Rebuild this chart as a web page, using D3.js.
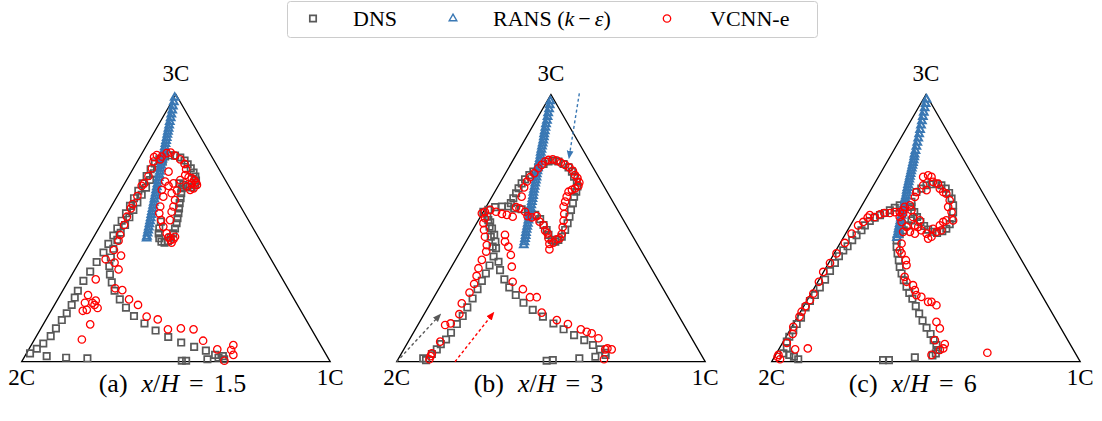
<!DOCTYPE html>
<html>
<head>
<meta charset="utf-8">
<script src="https://cdn.jsdelivr.net/npm/d3@7"></script>
<style>
  body { margin: 0; background: #fff; }
  svg text { font-family: "Liberation Serif", "Times New Roman", serif; fill: #000; }
</style>
</head>
<body>
<svg id="chart" width="1102" height="421"></svg>
<script>
// Barycentric map coordinates: 2C = (0,0), 1C = (1,0), 3C = (0.5, sqrt(3)/2)
const cornerLabels = ["2C", "1C", "3C"];
const seriesNames = ["DNS", "RANS", "VCNN-e"];
const panelTags = ["(a)", "(b)", "(c)"];
const panelPositions = ["1.5", "3", "6"];

// ---------- x/H = 1.5 ----------
const dnsA = [
  [0.081,0.018],[0.144,0.013],[0.213,0.011],[0.519,0.003],[0.533,0.003],[0.602,0.008],[0.638,0.013],[0.652,0.018],[0.656,0.008],
  [0.027,0.027],[0.049,0.042],[0.070,0.059],[0.094,0.083],[0.111,0.108],[0.130,0.135],[0.146,0.157],[0.162,0.184],[0.172,0.208],
  [0.182,0.230],[0.200,0.262],[0.222,0.292],[0.243,0.323],[0.265,0.354],[0.281,0.382],[0.297,0.409],[0.310,0.432],[0.324,0.457],
  [0.338,0.481],[0.351,0.505],[0.364,0.530],[0.378,0.554],[0.392,0.578],[0.405,0.602],[0.418,0.624],[0.432,0.643],[0.446,0.656],
  [0.627,0.022],[0.597,0.036],[0.559,0.048],[0.517,0.062],[0.475,0.080],[0.434,0.101],[0.398,0.124],[0.364,0.148],[0.338,0.175],
  [0.318,0.202],[0.301,0.230],[0.292,0.257],[0.286,0.283],[0.284,0.310],[0.289,0.338],[0.297,0.366],[0.310,0.395],[0.321,0.418],
  [0.335,0.443],[0.349,0.468],[0.362,0.492],[0.375,0.516],[0.389,0.541],[0.403,0.564],[0.416,0.589],[0.429,0.611],[0.442,0.630],
  [0.457,0.649],[0.465,0.665],[0.481,0.669],[0.497,0.668],[0.514,0.662],[0.528,0.652],[0.538,0.640],[0.548,0.627],[0.557,0.613],
  [0.563,0.600],[0.565,0.587],[0.562,0.573],[0.551,0.565],[0.537,0.568],[0.524,0.573],[0.511,0.578],
  [0.519,0.562],[0.517,0.546],[0.515,0.530],[0.512,0.514],[0.510,0.497],[0.508,0.481],[0.505,0.465],[0.502,0.449],[0.497,0.432],
  [0.491,0.416],[0.483,0.402],[0.474,0.391],[0.463,0.386],[0.453,0.389],[0.446,0.400],[0.444,0.416],[0.446,0.432],[0.451,0.454]
];
const ransA = [
  [0.496,0.856],[0.493,0.842],[0.490,0.828],[0.488,0.815],[0.485,0.802],[0.483,0.790],[0.480,0.778],[0.478,0.766],[0.476,0.756],
  [0.474,0.746],[0.472,0.736],[0.470,0.726],[0.468,0.716],[0.466,0.706],[0.464,0.696],[0.462,0.686],[0.460,0.676],[0.458,0.666],
  [0.456,0.656],[0.454,0.646],[0.452,0.636],[0.450,0.626],[0.448,0.616],[0.446,0.606],[0.444,0.596],[0.442,0.586],[0.440,0.576],
  [0.438,0.566],[0.436,0.556],[0.434,0.546],[0.432,0.536],[0.430,0.526],[0.428,0.516],[0.426,0.506],[0.424,0.496],[0.422,0.486],
  [0.420,0.476],[0.418,0.466],[0.416,0.456],[0.414,0.446],[0.412,0.436],[0.410,0.426],[0.408,0.416],[0.406,0.406],[0.405,0.400]
];
const vcnnA = [
  [0.657,0.003],[0.686,0.054],[0.686,0.022],[0.679,0.038],[0.634,0.040],[0.588,0.068],[0.557,0.105],[0.516,0.108],[0.474,0.105],
  [0.441,0.137],[0.405,0.146],[0.377,0.184],[0.348,0.202],[0.326,0.232],[0.303,0.238],[0.314,0.299],[0.301,0.321],[0.272,0.332],
  [0.322,0.344],[0.299,0.362],[0.314,0.392],
  [0.215,0.216],[0.205,0.191],[0.198,0.165],[0.211,0.168],[0.229,0.191],[0.240,0.198],[0.246,0.174],[0.236,0.184],[0.222,0.121],
  [0.195,0.072],[0.240,0.267],
  [0.319,0.411],[0.332,0.443],[0.341,0.470],[0.354,0.497],[0.360,0.511],[0.375,0.537],[0.389,0.570],[0.397,0.578],[0.411,0.602],
  [0.422,0.627],[0.427,0.649],
  [0.429,0.663],[0.438,0.670],[0.449,0.656],[0.454,0.665],[0.470,0.676],[0.483,0.678],[0.497,0.668],[0.514,0.656],[0.528,0.641],
  [0.533,0.624],[0.530,0.605],[0.541,0.598],[0.551,0.595],[0.559,0.589],[0.565,0.581],[0.568,0.573],[0.557,0.562],[0.546,0.557],
  [0.551,0.578],[0.535,0.568],
  [0.476,0.616],[0.465,0.584],[0.476,0.570],[0.492,0.578],[0.514,0.589],[0.454,0.557],[0.459,0.535],[0.449,0.503],[0.446,0.481],
  [0.452,0.459],[0.459,0.438],[0.470,0.416],[0.476,0.403],[0.483,0.395],[0.492,0.397],[0.497,0.405],[0.486,0.386],[0.481,0.459],
  [0.486,0.486],[0.497,0.524],[0.486,0.546],[0.503,0.555],[0.492,0.503]
];

// ---------- x/H = 3 ----------
const dnsB = [
  [0.086,0.011],[0.095,0.005],[0.486,0.003],[0.506,0.005],[0.592,0.011],[0.644,0.016],[0.677,0.022],
  [0.114,0.025],[0.130,0.040],[0.143,0.057],[0.160,0.072],[0.176,0.094],[0.195,0.122],[0.214,0.148],[0.229,0.176],[0.246,0.205],
  [0.262,0.235],[0.276,0.262],[0.289,0.286],[0.301,0.312],[0.314,0.341],[0.322,0.368],[0.320,0.389],[0.316,0.411],[0.309,0.432],
  [0.303,0.452],[0.294,0.470],
  [0.330,0.324],[0.335,0.297],[0.349,0.267],[0.365,0.241],[0.386,0.216],[0.411,0.191],[0.441,0.168],[0.474,0.146],[0.508,0.124],
  [0.541,0.105],[0.575,0.086],[0.608,0.070],[0.636,0.054],[0.659,0.040],[0.676,0.029],
  [0.311,0.373],[0.305,0.405],[0.301,0.438],[0.297,0.459],
  [0.281,0.486],[0.297,0.492],[0.319,0.501],[0.341,0.503],[0.362,0.503],[0.381,0.497],[0.405,0.494],[0.427,0.486],[0.449,0.476],
  [0.465,0.462],[0.476,0.443],[0.486,0.427],[0.492,0.411],[0.503,0.395],[0.514,0.389],[0.524,0.395],[0.535,0.405],[0.546,0.427],
  [0.554,0.449],[0.560,0.470],[0.565,0.492],[0.571,0.514],[0.575,0.535],[0.582,0.551],[0.586,0.568],[0.584,0.584],[0.575,0.600],
  [0.568,0.616],[0.557,0.630],[0.541,0.641],[0.524,0.649],[0.508,0.652],[0.492,0.649],[0.476,0.641],[0.459,0.630],[0.443,0.616],
  [0.430,0.605],[0.416,0.591],[0.405,0.578],[0.395,0.562],[0.387,0.546],[0.378,0.530],[0.370,0.514]
];
const ransB = [
  [0.498,0.845],[0.496,0.832],[0.494,0.819],[0.491,0.806],[0.489,0.794],[0.487,0.782],[0.484,0.770],[0.482,0.759],[0.480,0.748],
  [0.478,0.738],[0.477,0.728],[0.475,0.718],[0.473,0.708],[0.471,0.698],[0.469,0.688],[0.467,0.678],[0.466,0.668],[0.464,0.658],
  [0.462,0.648],[0.460,0.638],[0.458,0.628],[0.456,0.618],[0.454,0.608],[0.453,0.598],[0.451,0.588],[0.449,0.578],[0.447,0.568],
  [0.445,0.558],[0.443,0.548],[0.442,0.538],[0.440,0.528],[0.438,0.518],[0.436,0.508],[0.434,0.498],[0.432,0.488],[0.430,0.478],
  [0.429,0.468],[0.427,0.458],[0.425,0.448],[0.423,0.438],[0.421,0.428],[0.419,0.418],[0.418,0.408],[0.416,0.398],[0.414,0.388],
  [0.412,0.378]
];
const vcnnB = [
  [0.106,0.008],[0.110,0.018],[0.114,0.027],[0.141,0.065],[0.157,0.119],[0.175,0.124],[0.203,0.154],[0.211,0.189],[0.236,0.224],
  [0.251,0.252],[0.259,0.278],[0.265,0.303],[0.276,0.330],[0.290,0.357],[0.292,0.378],[0.286,0.405],[0.283,0.427],[0.281,0.449],
  [0.286,0.465],
  [0.276,0.481],[0.286,0.486],[0.303,0.492],[0.322,0.486],[0.341,0.479],[0.357,0.476],[0.376,0.470],[0.387,0.501],[0.398,0.497],
  [0.416,0.486],[0.424,0.472],[0.438,0.468],[0.454,0.472],[0.463,0.454],[0.476,0.443],[0.481,0.425],[0.489,0.416],[0.492,0.400],
  [0.495,0.382],[0.495,0.364],[0.508,0.386],[0.519,0.397],[0.528,0.400],[0.535,0.414],[0.538,0.436],[0.541,0.457],[0.543,0.479],
  [0.541,0.503],[0.546,0.519],
  [0.551,0.535],[0.557,0.551],[0.568,0.557],[0.578,0.562],[0.589,0.570],[0.592,0.581],[0.586,0.595],[0.578,0.605],[0.571,0.619],
  [0.560,0.630],[0.546,0.638],[0.532,0.645],[0.519,0.652],[0.506,0.656],[0.492,0.654],[0.481,0.649],[0.470,0.638],[0.459,0.627],
  [0.446,0.611],[0.432,0.598],[0.422,0.584],[0.413,0.565],[0.405,0.535],
  [0.351,0.411],[0.351,0.389],[0.362,0.373],[0.370,0.346],[0.373,0.308],[0.376,0.259],[0.409,0.235],[0.432,0.209],[0.454,0.209],
  [0.470,0.159],[0.519,0.135],[0.555,0.122],[0.597,0.105],[0.616,0.097],[0.632,0.092],[0.654,0.076],[0.676,0.040],[0.697,0.040],
  [0.683,0.043],[0.672,0.008]
];

// ---------- x/H = 6 ----------
const dnsC = [
  [0.038,0.027],[0.049,0.043],[0.057,0.022],[0.072,0.016],[0.086,0.008],[0.049,0.065],
  [0.057,0.081],[0.070,0.102],[0.081,0.122],[0.095,0.143],[0.110,0.176],[0.124,0.197],[0.140,0.216],[0.156,0.241],[0.173,0.266],
  [0.189,0.294],[0.205,0.320],[0.218,0.342],[0.232,0.361],[0.246,0.374],[0.261,0.394],[0.275,0.410],[0.291,0.426],[0.302,0.442],
  [0.318,0.456],[0.334,0.467],[0.351,0.475],[0.367,0.482],[0.383,0.491],[0.399,0.499],[0.415,0.507],[0.431,0.512],
  [0.361,0.005],[0.380,0.005],[0.464,0.014],
  [0.405,0.394],[0.405,0.372],[0.408,0.351],[0.412,0.329],[0.415,0.307],[0.421,0.286],[0.428,0.264],[0.437,0.243],[0.446,0.223],
  [0.456,0.204],[0.467,0.180],[0.478,0.156],[0.489,0.133],[0.502,0.110],[0.515,0.090],[0.525,0.070],[0.534,0.054],[0.539,0.038],
  [0.532,0.027],[0.521,0.020],
  [0.453,0.518],[0.469,0.550],[0.485,0.561],[0.502,0.572],[0.518,0.575],[0.534,0.577],[0.550,0.572],[0.564,0.561],[0.575,0.547],
  [0.583,0.529],[0.588,0.507],[0.588,0.485],[0.585,0.464],[0.577,0.446],[0.566,0.431],[0.553,0.423],[0.536,0.417],[0.521,0.421],
  [0.507,0.428],[0.494,0.440],[0.482,0.453],[0.471,0.469],[0.462,0.485],[0.453,0.502],
  [0.453,0.458],[0.442,0.442],[0.428,0.426],[0.415,0.413]
];
const ransC = [
  [0.502,0.850],[0.499,0.836],[0.496,0.822],[0.493,0.808],[0.490,0.794],[0.487,0.780],[0.484,0.766],[0.481,0.752],[0.478,0.738],
  [0.475,0.724],[0.472,0.710],[0.469,0.697],[0.466,0.684],[0.463,0.672],
  [0.462,0.663],[0.460,0.654],[0.458,0.645],[0.456,0.636],[0.454,0.627],[0.452,0.618],[0.450,0.609],[0.448,0.600],[0.446,0.591],
  [0.444,0.582],[0.442,0.573],[0.440,0.564],[0.438,0.555],[0.437,0.546],[0.435,0.537],[0.433,0.528],[0.431,0.519],[0.429,0.510],
  [0.427,0.501],[0.425,0.492],[0.423,0.483],[0.421,0.474],[0.419,0.465],[0.417,0.456],[0.415,0.447],[0.413,0.438],[0.411,0.429],
  [0.410,0.420],[0.408,0.411],[0.406,0.402]
];
const vcnnC = [
  [0.019,0.016],[0.027,0.008],[0.022,0.022],[0.049,0.061],[0.076,0.040],[0.117,0.043],[0.070,0.113],[0.068,0.090],[0.090,0.146],
  [0.097,0.162],[0.110,0.180],[0.124,0.200],[0.135,0.221],[0.153,0.259],[0.167,0.291],[0.189,0.320],[0.210,0.351],[0.237,0.385],
  [0.259,0.415],[0.280,0.442],[0.297,0.453],[0.311,0.467],[0.318,0.475],[0.334,0.469],[0.351,0.478],[0.365,0.482],[0.383,0.482],
  [0.399,0.485],[0.415,0.485],[0.426,0.491],
  [0.421,0.383],[0.415,0.361],[0.421,0.351],[0.437,0.313],[0.431,0.275],[0.437,0.259],[0.458,0.248],[0.464,0.232],[0.469,0.216],
  [0.485,0.210],[0.507,0.194],[0.518,0.194],[0.534,0.183],[0.534,0.129],[0.545,0.108],[0.529,0.070],[0.561,0.057],[0.556,0.043],
  [0.545,0.038],[0.518,0.022],[0.699,0.029],[0.426,0.421],[0.435,0.329],
  [0.491,0.599],[0.507,0.604],[0.518,0.599],[0.523,0.583],[0.539,0.577],[0.545,0.561],[0.491,0.572],[0.502,0.556],[0.469,0.550],
  [0.464,0.534],[0.566,0.545],[0.577,0.523],[0.572,0.502],[0.583,0.485],[0.588,0.458],[0.566,0.458],[0.556,0.453],[0.545,0.442],
  [0.550,0.426],[0.534,0.421],[0.523,0.431],[0.518,0.405],[0.507,0.399],[0.502,0.415],[0.485,0.426],[0.475,0.437],[0.464,0.442],
  [0.480,0.458],[0.458,0.469],[0.453,0.491],[0.448,0.507],[0.431,0.502],[0.426,0.480],[0.415,0.469],[0.421,0.453],[0.437,0.437],
  [0.448,0.421],[0.464,0.415],[0.556,0.550]
];

const panels = [
  { dns: dnsA, rans: ransA, vcnn: vcnnA },
  { dns: dnsB, rans: ransB, vcnn: vcnnB },
  { dns: dnsC, rans: ransC, vcnn: vcnnC }
];

// Dashed direction arrows drawn on the x/H = 3 map, in map coordinates
const arrowsB = [
  { from: [0.000, 0.000], to: [0.135, 0.146], key: "dns" },
  { from: [0.189, 0.000], to: [0.308, 0.151], key: "vcnn" },
  { from: [0.592, 0.870], to: [0.560, 0.670], key: "rans" }
];

const colors = { dns: "#595959", rans: "#3a78b4", vcnn: "#ff0000" };
const marker = {
  dns:  { size: 6.4, width: 1.7 },
  rans: { size: 7.6, width: 2.0 },
  vcnn: { size: 3.7, width: 1.3 }
};

const svg = d3.select("#chart");
const H3 = Math.sqrt(3) / 2;
const panelLeft = [21.7, 396.7, 771.7];
const side = 308.5;
const baseY = 361.7;

const defs = svg.append("defs");
Object.keys(colors).forEach(k => {
  defs.append("marker")
    .attr("id", "head-" + k)
    .attr("viewBox", "0 0 10 10")
    .attr("refX", 5).attr("refY", 5)
    .attr("markerWidth", 6).attr("markerHeight", 6)
    .attr("orient", "auto")
    .append("path").attr("d", "M0,1 L10,5 L0,9 Z").attr("fill", colors[k]);
});

const squarePath = (s) => `M${-s/2},${-s/2}h${s}v${s}h${-s}Z`;
const trianglePath = (s) => {
  const h = s * Math.sqrt(3) / 2;
  return `M0,${-h*2/3}L${s/2},${h/3}L${-s/2},${h/3}Z`;
};

function drawMarker(sel, key, widthScale = 1) {
  if (key === "dns") {
    return sel.append("path").attr("d", squarePath(marker.dns.size))
      .attr("fill", "none").attr("stroke", colors.dns).attr("stroke-width", marker.dns.width * widthScale);
  }
  if (key === "rans") {
    return sel.append("path").attr("d", trianglePath(marker.rans.size))
      .attr("fill", "none").attr("stroke", colors.rans).attr("stroke-width", marker.rans.width * widthScale);
  }
  return sel.append("circle").attr("r", marker.vcnn.size)
    .attr("fill", "none").attr("stroke", colors.vcnn).attr("stroke-width", marker.vcnn.width * widthScale);
}

panels.forEach((p, i) => {
  const x = d3.scaleLinear().domain([0, 1]).range([panelLeft[i], panelLeft[i] + side]);
  const y = d3.scaleLinear().domain([0, H3]).range([baseY, baseY - side * H3]);
  const g = svg.append("g");

  const corners = [[0, 0], [1, 0], [0.5, H3]];
  g.append("path")
    .attr("d", d3.line().x(d => x(d[0])).y(d => y(d[1]))(corners) + "Z")
    .attr("fill", "none").attr("stroke", "#000").attr("stroke-width", 1.3);

  // corner labels
  g.append("text").attr("x", x(0)).attr("y", 385).attr("text-anchor", "middle").attr("font-size", 23).text(cornerLabels[0]);
  g.append("text").attr("x", x(1)).attr("y", 385).attr("text-anchor", "middle").attr("font-size", 23).text(cornerLabels[1]);
  g.append("text").attr("x", x(0.5)).attr("y", 80.5).attr("text-anchor", "middle").attr("font-size", 23).text(cornerLabels[2]);

  if (i === 1) {
    arrowsB.forEach(a => {
      g.append("line")
        .attr("x1", x(a.from[0])).attr("y1", y(a.from[1]))
        .attr("x2", x(a.to[0])).attr("y2", y(a.to[1]))
        .attr("stroke", colors[a.key]).attr("stroke-width", 1.4)
        .attr("stroke-dasharray", "3,2.5")
        .attr("marker-end", `url(#head-${a.key})`);
    });
  }

  ["dns", "rans", "vcnn"].forEach(key => {
    const layer = g.append("g");
    p[key].forEach(d => {
      const m = layer.append("g").attr("transform", `translate(${x(d[0])},${y(d[1])})`);
      drawMarker(m, key);
    });
  });

  // caption
  const cap = svg.append("text").attr("x", x(0) + 77).attr("y", 392).attr("font-size", 26);
  cap.append("tspan").text(panelTags[i]);
  cap.append("tspan").attr("dx", 14).attr("font-style", "italic").text("x");
  cap.append("tspan").text("/");
  cap.append("tspan").attr("font-style", "italic").text("H");
  cap.append("tspan").attr("dx", 10).text("=");
  cap.append("tspan").attr("dx", 10).text(panelPositions[i]);
});

// legend
const legend = svg.append("g");
legend.append("rect").attr("x", 287.5).attr("y", 1.5).attr("width", 530).attr("height", 36)
  .attr("rx", 3).attr("fill", "#fff").attr("stroke", "#cccccc").attr("stroke-width", 1);
const legendItems = [
  { key: "dns", mx: 313, tx: 353 },
  { key: "rans", mx: 453, tx: 493 },
  { key: "vcnn", mx: 667, tx: 710 }
];
legendItems.forEach(it => {
  const m = legend.append("g").attr("transform", `translate(${it.mx},18.5)`);
  drawMarker(m, it.key, it.key === "rans" ? 0.7 : 1);
  const t = legend.append("text").attr("x", it.tx).attr("y", 26).attr("font-size", 22);
  if (it.key === "rans") {
    t.append("tspan").text(seriesNames[1] + " (");
    t.append("tspan").attr("font-style", "italic").text("k");
    t.append("tspan").attr("dx", 4).text("\u2212");
    t.append("tspan").attr("dx", 4).attr("font-style", "italic").text("\u03b5");
    t.append("tspan").text(")");
  } else {
    t.text(it.key === "dns" ? seriesNames[0] : seriesNames[2]);
  }
});
</script>
</body>
</html>
